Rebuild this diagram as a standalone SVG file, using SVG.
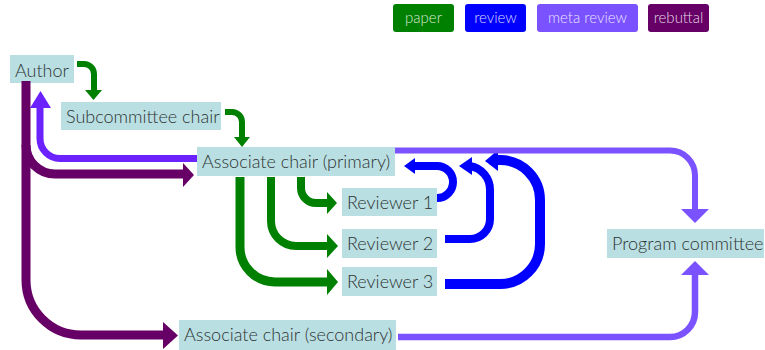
<svg xmlns="http://www.w3.org/2000/svg" width="765" height="350" viewBox="0 0 765 350">
<style>
.box{fill:#b9dfe2}
.lbl{font-family:Lato,"Open Sans",sans-serif;font-size:18px;fill:#2e3333;font-weight:300}
.leg{font-family:Lato,"Open Sans",sans-serif;font-size:15px;fill:#ffffff;fill-opacity:0.85;text-anchor:middle;font-weight:300}
.c{fill:none;stroke-linejoin:round}
.paper{stroke:#008000}
.review{stroke:#0000ff}
.meta{stroke:#7b52ff}
.ret{stroke:#6b22ff}
.reb{stroke:#660066}
.hp{fill:#008000}
.hr{fill:#0000ff}
.hm{fill:#7b52ff}
.ht{fill:#6b22ff}
.hb{fill:#660066}
</style>
<g id="legend">
<rect x="393" y="4" width="61" height="28" rx="3" fill="#008000"/><text class="leg" x="423.5" y="23">paper</text>
<rect x="465" y="4" width="61" height="28" rx="3" fill="#0000ff"/><text class="leg" x="495.5" y="23">review</text>
<rect x="537" y="4" width="101" height="28" rx="3" fill="#7b52ff"/><text class="leg" x="587.5" y="23">meta review</text>
<rect x="648" y="4" width="61" height="28" rx="3" fill="#660066"/><text class="leg" x="678.5" y="23">rebuttal</text>
</g>
<g id="author"><rect class="box" x="10" y="55" width="64" height="28"/><text class="lbl" x="15" y="77">Author</text></g>
<g id="subcommittee"><rect class="box" x="61" y="102" width="160" height="28"/><text class="lbl" x="66" y="123">Subcommittee chair</text></g>
<g id="ac-primary"><rect class="box" x="197" y="147" width="198" height="29"/><text class="lbl" x="202" y="168">Associate chair (primary)</text></g>
<g id="reviewer1"><rect class="box" x="342" y="188" width="95" height="28"/><text class="lbl" x="347" y="209">Reviewer 1</text></g>
<g id="reviewer2"><rect class="box" x="342" y="229" width="95" height="29"/><text class="lbl" x="347" y="250">Reviewer 2</text></g>
<g id="reviewer3"><rect class="box" x="342" y="267" width="95" height="29"/><text class="lbl" x="347" y="288">Reviewer 3</text></g>
<g id="program-committee"><rect class="box" x="607" y="229" width="157" height="29"/><text class="lbl" x="612" y="250">Program committee</text></g>
<g id="ac-secondary"><rect class="box" x="179" y="320" width="217" height="30"/><text class="lbl" x="184" y="341">Associate chair (secondary)</text></g>
<g id="connectors">
<path class="c paper" stroke-width="6" d="M77,64 H84 A10,10 0 0 1 94,74 V91"/>
<polygon class="hp" points="85,90 102,90 93.5,100"/>
<path class="c paper" stroke-width="6" d="M225,112 H232 A10,10 0 0 1 242,122 V138"/>
<polygon class="hp" points="234,137 250,137 242,147"/>
<path class="c paper" stroke-width="8" d="M301,177 V188 A15,15 0 0 0 316,203 H328"/>
<polygon class="hp" points="327,192 327,214 337,203"/>
<path class="c paper" stroke-width="8" d="M271,177 V221 A25,25 0 0 0 296,246 H328"/>
<polygon class="hp" points="327,234 327,258 338,246"/>
<path class="c paper" stroke-width="9" d="M240,177 V247 A35,35 0 0 0 275,282 H328"/>
<polygon class="hp" points="327,269 327,295 338,282"/>
<path class="c review" stroke-width="8" d="M437,198 A16,16 0 0 0 453,182 A16,16 0 0 0 437,166 H414"/>
<polygon class="hr" points="415,158 415,174 404,166"/>
<path class="c review" stroke-width="8" d="M445,239 H470 A20,20 0 0 0 490,219 V190 A24,24 0 0 0 470,166"/>
<polygon class="hr" points="472,157 472,175 459,166"/>
<path class="c review" stroke-width="10" d="M445,284 H500 A40,40 0 0 0 540,244 V200 A40,40 0 0 0 500,160 H497"/>
<polygon class="hr" points="498,150 498,171 485,161"/>
<path class="c meta" stroke-width="6" d="M395,150.5 H670 A25,25 0 0 1 695,175.5 V210"/>
<polygon class="hm" points="681,209 709,209 695,223"/>
<path class="c meta" stroke-width="6.5" d="M398,337 H670 A25,25 0 0 0 695,312 V274"/>
<polygon class="hm" points="681,275 709,275 695,261"/>
<path class="c ret" stroke-width="7" d="M197,158.5 H60 A20,20 0 0 1 40,138.5 V107"/>
<polygon class="ht" points="30,108 51,108 40.5,91"/>
<path class="c reb" stroke-width="9" d="M26,81 V280 A55,55 0 0 0 81,335 H164"/>
<polygon class="hb" points="163,322 163,349 178,335.5"/>
<path class="c reb" stroke-width="9" d="M26,145 A29,29 0 0 0 55,174 H184"/>
<polygon class="hb" points="183,163 183,187 194,175"/>
</g>
</svg>
